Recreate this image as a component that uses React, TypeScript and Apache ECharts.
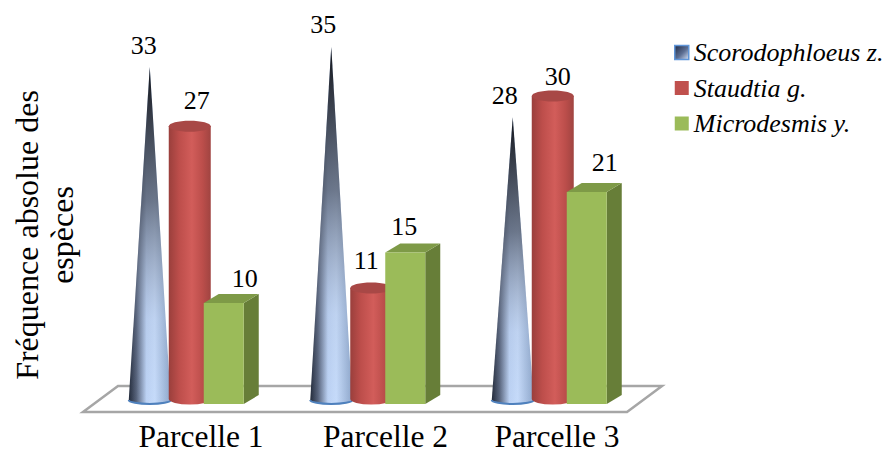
import React, { useEffect, useRef } from "react";
import * as echarts from "echarts";

const categories = ["Parcelle 1", "Parcelle 2", "Parcelle 3"];
const scorodophloeus = [33, 35, 28];
const staudtia = [27, 11, 30];
const microdesmis = [10, 15, 21];
const seriesNames = ["Scorodophloeus z.", "Staudtia g.", "Microdesmis y."];

// Hand placement of each value label relative to its mark's top: [dx, dy] per category.
const coneLabelShift = [[-6, -21], [-8, -22], [-8, -22]];
const cylinderLabelShift = [[7, -26], [-5, -27], [5, -20]];
const prismLabelShift = [[21, -25], [-1, -26], [18, -29]];
// Category captions sit unevenly under their groups.
const captionCentres = [201, 385.5, 557];

const SERIF = "'Liberation Serif', 'Times New Roman', serif";
const SCALE_MAX = 40;

const horizontal = (stops: [number, string][]) => ({
  type: "linear", x: 0, y: 0, x2: 1, y2: 0,
  colorStops: stops.map(([offset, color]) => ({ offset, color })),
});

const valueLabel = (text: string, x: number, y: number) => ({
  type: "text",
  z2: 50,
  style: {
    text, x, y,
    fontSize: 26, fontFamily: SERIF, fill: "#000",
    textAlign: "center", textVerticalAlign: "middle",
  },
});

const renderCone = (_: any, api: any) => {
  const idx = api.value(0);
  const [cx, y0] = api.coord([idx, 0]);
  const [, top] = api.coord([idx, api.value(1)]);
  const x = cx - 51;
  const base = y0 - 4;
  const tip = top - 4;
  const r = 21;
  const body = `M${x} ${tip}L${x - r} ${base}A${r} 4 0 0 0 ${x + r} ${base}Z`;
  const [dx, dy] = coneLabelShift[idx];
  return {
    type: "group",
    children: [
      {
        type: "path",
        shape: { pathData: body, layout: "none" },
        style: {
          fill: horizontal([
            [0, "#222a3a"], [0.18, "#56627a"], [0.42, "#bcd2f4"],
            [0.62, "#c6dbfa"], [1, "#8ea7cb"],
          ]),
        },
      },
      {
        type: "path",
        shape: { pathData: body, layout: "none" },
        style: {
          fill: {
            type: "linear", x: 0, y: 0, x2: 0, y2: 1,
            colorStops: [
              { offset: 0, color: "rgba(18,20,26,1)" },
              { offset: 0.4, color: "rgba(60,66,80,0.65)" },
              { offset: 0.75, color: "rgba(130,140,160,0.1)" },
              { offset: 1, color: "rgba(130,140,160,0)" },
            ],
          },
        },
      },
      {
        type: "path",
        shape: { pathData: `M${x - r} ${base}A${r} 4 0 0 0 ${x + r} ${base}`, layout: "none" },
        style: { fill: "none", stroke: "#4f81bd", lineWidth: 2 },
      },
      valueLabel(String(api.value(1)), x + dx, tip + dy),
    ],
  };
};

const renderCylinder = (_: any, api: any) => {
  const idx = api.value(0);
  const [cx, y0] = api.coord([idx, 0]);
  const [, top] = api.coord([idx, api.value(1)]);
  const x = cx - 11;
  const base = y0 - 5;
  const head = top - 5;
  const rx = 21;
  const ry = 5.5;
  const [dx, dy] = cylinderLabelShift[idx];
  return {
    type: "group",
    children: [
      {
        type: "path",
        shape: {
          pathData: `M${x - rx} ${head}L${x - rx} ${base}A${rx} ${ry} 0 0 0 ${x + rx} ${base}L${x + rx} ${head}Z`,
          layout: "none",
        },
        style: {
          fill: horizontal([
            [0, "#9a3f3c"], [0.25, "#bd4e4b"], [0.55, "#d25d5a"],
            [0.8, "#bc4e4b"], [1, "#a04441"],
          ]),
        },
      },
      {
        type: "ellipse",
        shape: { cx: x, cy: head, rx, ry },
        style: { fill: "#a84846" },
      },
      valueLabel(String(api.value(1)), x + dx, head + dy),
    ],
  };
};

const renderPrism = (_: any, api: any) => {
  const idx = api.value(0);
  const [cx, y0] = api.coord([idx, 0]);
  const [, top] = api.coord([idx, api.value(1)]);
  const left = cx + 3;
  const right = cx + 43;
  const depthX = 15;
  const depthY = 9;
  const [dx, dy] = prismLabelShift[idx];
  return {
    type: "group",
    children: [
      {
        type: "polygon",
        shape: { points: [[right, top], [right + depthX, top - depthY], [right + depthX, y0 - depthY], [right, y0]] },
        style: { fill: "#677e38" },
      },
      {
        type: "polygon",
        shape: { points: [[left, top], [left + depthX, top - depthY], [right + depthX, top - depthY], [right, top]] },
        style: { fill: "#7e9a47" },
      },
      {
        type: "rect",
        shape: { x: left, y: top, width: right - left, height: y0 - top },
        style: { fill: "#9bbb59" },
      },
      valueLabel(String(api.value(1)), (left + right) / 2 + dx, top + dy),
    ],
  };
};

const toPoints = (values: number[]) => values.map((v, i) => [i, v]);

export default function App() {
  const ref = useRef<HTMLDivElement>(null);

  useEffect(() => {
    const chart = echarts.init(ref.current!, undefined, { renderer: "svg" });
    const custom = (name: string, values: number[], renderItem: any, color: string) => ({
      type: "custom", name, renderItem, clip: false, z: 3,
      itemStyle: { color },
      encode: { x: 0, y: 1 },
      data: toPoints(values),
    });
    const titleLine = (text: string, x: number) => ({
      type: "text", z: 5, x, y: 235, rotation: Math.PI / 2,
      style: {
        text, fontSize: 32, fontFamily: SERIF, fill: "#000",
        textAlign: "center", textVerticalAlign: "middle",
      },
    });
    chart.setOption({
      animation: false,
      backgroundColor: "#fff",
      grid: { left: 110, width: 544.5, top: 0, height: 404, outerBoundsMode: "none" },
      xAxis: {
        type: "category",
        data: categories,
        axisLine: { show: false },
        axisTick: { show: false },
        axisLabel: { show: false },
      },
      yAxis: {
        type: "value", min: 0, max: SCALE_MAX,
        axisLine: { show: false }, axisTick: { show: false },
        axisLabel: { show: false }, splitLine: { show: false },
      },
      legend: {
        left: 674, top: 39.5, orient: "vertical", padding: 0,
        itemWidth: 14, itemHeight: 14, itemGap: 9.5,
        selectedMode: false,
        textStyle: {
          fontSize: 26, fontStyle: "italic", fontFamily: SERIF, color: "#000",
          lineHeight: 26,
        },
        data: [
          {
            name: seriesNames[0], icon: "rect",
            itemStyle: {
              color: {
                type: "linear", x: 0, y: 0, x2: 1, y2: 1,
                colorStops: [
                  { offset: 0, color: "#1f2a44" },
                  { offset: 0.55, color: "#5d6f94" },
                  { offset: 1, color: "#d4e2f8" },
                ],
              },
              borderColor: "#5f95d8", borderWidth: 1.5,
            },
          },
          { name: seriesNames[1], icon: "rect", itemStyle: { color: "#c0504d" } },
          { name: seriesNames[2], icon: "rect", itemStyle: { color: "#9bbb59" } },
        ],
      },
      graphic: [
        {
          type: "polygon", z: 0,
          shape: { points: [[83, 412], [118, 386], [662, 386], [627, 412]] },
          style: { fill: "#fff", stroke: "#a6a6a6", lineWidth: 2.5 },
        },
        titleLine("Fréquence absolue des", 26.5),
        titleLine("espèces", 62),
        ...categories.map((text, i) => ({
          type: "text", z: 5, x: captionCentres[i], y: 436,
          style: {
            text, fontSize: 31.5, fontFamily: SERIF, fill: "#000",
            textAlign: "center", textVerticalAlign: "middle",
          },
        })),
      ],
      series: [
        custom(seriesNames[0], scorodophloeus, renderCone, "#4f81bd"),
        custom(seriesNames[1], staudtia, renderCylinder, "#c0504d"),
        custom(seriesNames[2], microdesmis, renderPrism, "#9bbb59"),
      ],
    });
    return () => chart.dispose();
  }, []);

  return (
    <div
      ref={ref}
      style={{ position: "fixed", left: 0, top: 0, width: 888, height: 454 }}
    />
  );
}
